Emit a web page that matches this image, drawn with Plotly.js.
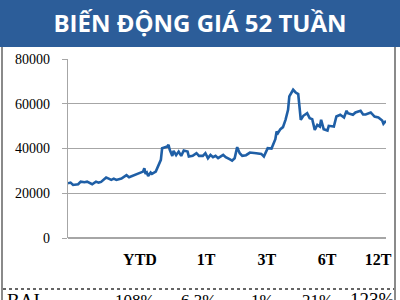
<!DOCTYPE html>
<html>
<head>
<meta charset="utf-8">
<script src="https://cdn.plot.ly/plotly-3.0.1.min.js"></script>
<style>html,body{margin:0;padding:0;background:#fff;}#chart{width:400px;height:300px;}</style>
</head>
<body>
<div id="chart"></div>
<script>
// Trading-day index (0 = 52 weeks ago) and price
const day = [0,2,4,8,10,13,15,18,19,22,24,26,30,32,34,36,38,42,44,46,48,52,56,59,60,61,62,63,65,66,69,71,73,74,76,78,79,80,82,83,85,87,89,91,94,95,98,101,103,106,108,110,112,114,116,118,122,124,127,129,131,133,135,137,140,143,148,152,154,156,157,160,161,162,163,164,165,167,169,171,173,174,177,179,181,183,185,188,190,192,193,194,196,198,199,201,204,205,209,211,214,217,219,220,224,226,230,232,234,238,241,244,247,248,250];
const price = [24480,24760,23720,24030,25200,24930,25200,24480,24030,25200,24760,25070,27000,26550,25960,26550,25960,26550,27170,28060,27170,28200,29230,29680,31200,28650,29230,27750,29230,28650,29680,32670,34910,40150,40600,40870,41630,39390,36700,38940,37010,38630,36700,39080,38630,36400,36700,37900,36700,36700,37900,35660,37150,36100,36700,35660,37150,36100,35220,34600,35660,40600,37900,36700,37010,38180,37900,37570,36400,38630,40150,40000,41630,43550,44180,47580,46860,48650,49550,52820,57300,63250,66250,65030,64310,52820,54610,55810,53570,53120,51030,48340,50580,49820,52820,48650,48030,50130,49820,54290,55060,53850,56850,55810,55060,56100,56850,55210,55210,56100,54290,53850,52510,51030,52370];
const tickPos = [56.6,108.5,156.4,203.6,243.7];
const tickLabels = ["YTD","1T","3T","6T","12T"];
const yTicks = [0,20000,40000,60000,80000];
const yTickLabels = ["0","20000","40000","60000","80000"];
const statLabel = "BAI";
const statValues = ["108%","6.3%","1%","21%","123%"];
const statX = [135,198,262,317,372];
const title = "BIẾN ĐỘNG GIÁ 52 TUẦN";

// plot area in pixels
const L=68, R=386, T=59, B=238, W=400, H=300;
const px2x = p => (p-L)/(R-L);
const py2y = p => (B-p)/(B-T);

const trace = {
  x: day, y: price, type:'scatter', mode:'lines',
  line:{color:'#1f5fa6', width:2.6}, hoverinfo:'skip'
};

const annotations = [{
  xref:'paper', yref:'paper', x:px2x(5), y:py2y(288), xanchor:'left', yanchor:'top',
  text:statLabel, showarrow:false, font:{family:'Liberation Serif', size:19, color:'#000'}
}];
statValues.forEach((v,i)=>{
  annotations.push({
    xref:'paper', yref:'paper', x:px2x(statX[i]), y:py2y(i===4?287:289), xanchor:'center', yanchor:'top',
    text:v, showarrow:false, font:{family:'Liberation Serif', size:i===4?19:17, color:'#000'}
  });
});

const layout = {
  width:W, height:H,
  margin:{l:L, r:W-R, t:T, b:H-B, pad:0},
  paper_bgcolor:'#fff', plot_bgcolor:'#fff',
  showlegend:false,
  title:{text:title, font:{family:'Open Sans', size:24, color:'#fff', weight:'bold'},
         x:0.5, xanchor:'center', xref:'container', y:1-24/300, yanchor:'middle', yref:'container'},
  xaxis:{range:[0,250], tickvals:tickPos, ticktext:tickLabels.map(t=>'<b>'+t+'</b>'),
         showgrid:false, zeroline:false, showline:false, ticks:'',
         tickfont:{family:'Liberation Serif', size:16, color:'#000'}, ticklabelstandoff:10},
  yaxis:{range:[0,80000], tickvals:yTicks, ticktext:yTickLabels, showgrid:true, gridcolor:'#a6a6a6', gridwidth:1.2,
         zeroline:true, zerolinecolor:'#a6a6a6', zerolinewidth:1.2,
         showline:true, linecolor:'#a6a6a6', linewidth:1.2, ticks:'outside', ticklen:5, tickcolor:'#a6a6a6',
         tickfont:{family:'Liberation Serif', size:14, color:'#000'}, ticklabelstandoff:9},
  shapes:[
    {type:'rect', xref:'paper', yref:'paper', x0:px2x(0), x1:px2x(400), y0:py2y(47), y1:py2y(0),
     fillcolor:'#2c5d99', line:{width:0}, layer:'below'},
    {type:'line', xref:'paper', yref:'paper', x0:px2x(2), x1:px2x(2), y0:py2y(47), y1:py2y(300),
     line:{color:'#8a8a8a', width:2}},
    {type:'line', xref:'paper', yref:'paper', x0:px2x(395), x1:px2x(395), y0:py2y(47), y1:py2y(300),
     line:{color:'#8a8a8a', width:2}},
    {type:'line', xref:'paper', yref:'paper', x0:px2x(3), x1:px2x(394), y0:py2y(289), y1:py2y(289),
     line:{color:'#333', width:1.3, dash:'dot'}}
  ],
  annotations: annotations
};

Plotly.newPlot('chart',[trace],layout,{displayModeBar:false, staticPlot:true});
</script>
</body>
</html>
